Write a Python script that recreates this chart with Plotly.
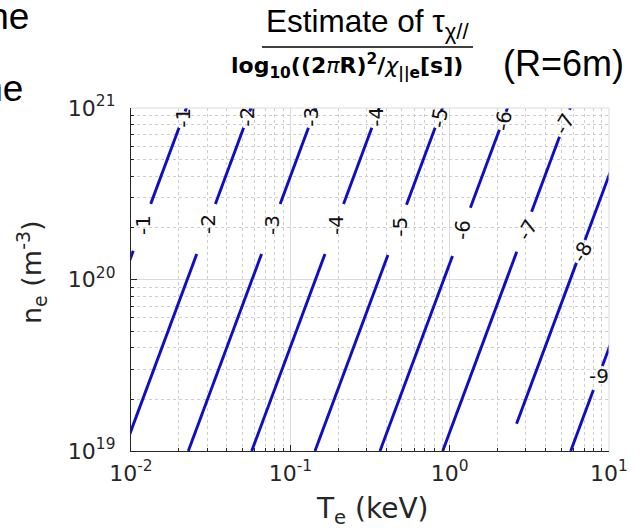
import numpy as np
import plotly.graph_objects as go

# Iso-lines of log10((2*pi*R)^2 / chi_par_e [s]) for R = 6 m,
# electron temperature Te (keV) against electron density ne (m^-3).
LEVELS = [-1, -2, -3, -4, -5, -6, -7, -8, -9]

# points along each iso-line; None breaks a line where its label sits
TE_M1 = [0.00886, 0.01033, None, 0.01330, 0.02002, None, 0.02185, 0.02440]
NE_M1 = [1.0e20, 1.47e20, None, 2.76e20, 7.67e20, None, 9.55e20, 1.26e21]

TE_M2 = [0.00897, 0.02587, None, 0.03385, 0.05092, None, 0.05555, 0.06207]
NE_M2 = [1.0e19, 1.41e20, None, 2.76e20, 7.67e20, None, 9.55e20, 1.26e21]

TE_M3 = [0.02289, 0.06600, None, 0.08633, 0.1299, None, 0.1418, 0.1583]
NE_M3 = [1.0e19, 1.41e20, None, 2.76e20, 7.67e20, None, 9.55e20, 1.26e21]

TE_M4 = [0.05722, 0.1650, None, 0.2158, 0.3247, None, 0.3544, 0.3959]
NE_M4 = [1.0e19, 1.41e20, None, 2.76e20, 7.67e20, None, 9.55e20, 1.26e21]

TE_M5 = [0.1428, 0.4097, None, 0.5358, 0.8103, None, 0.8847, 0.9881]
NE_M5 = [1.0e19, 1.39e20, None, 2.73e20, 7.67e20, None, 9.55e20, 1.26e21]

TE_M6 = [0.3654, 1.042, None, 1.349, 2.052, None, 2.259, 2.528]
NE_M6 = [1.0e19, 1.37e20, None, 2.62e20, 7.47e20, None, 9.50e20, 1.26e21]

TE_M7 = [0.9044, 2.636, None, 3.267, 4.890, None, 5.653, 6.256]
NE_M7 = [1.0e19, 1.45e20, None, 2.48e20, 6.80e20, None, 9.77e20, 1.26e21]

TE_M8 = [2.629, 6.248, None, 7.07, 11.4]
NE_M8 = [1.44e19, 1.25e20, None, 1.70e20, 5.62e20]

TE_M9 = [5.751, 7.982, None, 9.081, 10.96]
NE_M9 = [1.0e19, 2.27e19, None, 3.13e19, 5.01e19]

LINES_TE = [TE_M1, TE_M2, TE_M3, TE_M4, TE_M5, TE_M6, TE_M7, TE_M8, TE_M9]
LINES_NE = [NE_M1, NE_M2, NE_M3, NE_M4, NE_M5, NE_M6, NE_M7, NE_M8, NE_M9]

# inline contour labels: level, Te, ne, rotation
LABEL_LEVEL = [-1, -2, -3, -4, -5, -6, -7, -8, -9,
               -1, -2, -3, -4, -5, -6, -7]
LABEL_TE = [0.01189, 0.03043, 0.07674, 0.1935, 0.4880, 1.195, 3.058, 6.77, 8.655,
            0.02120, 0.05346, 0.1348, 0.3449, 0.857, 2.162, 5.221]
LABEL_NE = [2.08e20, 2.11e20, 2.08e20, 2.08e20, 2.03e20, 1.95e20, 1.95e20, 1.45e20, 2.74e19,
            8.78e20, 8.89e20, 8.89e20, 8.89e20, 8.78e20, 8.43e20, 8.10e20]
LABEL_ANGLE = [-90, -90, -90, -90, -90, -85, -60, -60, 0,
               -90, -90, -90, -90, -80, -80, -60]

TE_TICKS = [0.01, 0.1, 1, 10]
TE_TICKTEXT = ["10<sup>-2</sup>", "10<sup>-1</sup>", "10<sup>0</sup>", "10<sup>1</sup>"]
NE_TICKS = [1e19, 1e20, 1e21]
NE_TICKTEXT = ["10<sup>19</sup>", "10<sup>20</sup>", "10<sup>21</sup>"]

TE_MINOR = [k * 10.0 ** d for d in range(-2, 1) for k in range(2, 10)]
NE_MINOR = [k * 10.0 ** d for d in range(19, 21) for k in range(2, 10)]

W, H = 644, 531
ML, MR, MT, MB = 131, 35, 108, 80
PW, PH = W - ML - MR, H - MT - MB


def px(x):
    return (x - ML) / PW


def py(y):
    return (H - MB - y) / PH


LINE_COLOR = "#0e0ec2"
AXIS_COLOR = "#262626"
GRID_MAJOR = "#dadada"
GRID_MINOR = "#cdcdcd"

fig = go.Figure()
for lvl, te, ne in zip(LEVELS, LINES_TE, LINES_NE):
    fig.add_trace(go.Scatter(
        x=te, y=ne, mode="lines", name=str(lvl),
        line=dict(color=LINE_COLOR, width=2.9),
        connectgaps=False, showlegend=False, hoverinfo="skip",
    ))

annotations = []
for lvl, te, ne, ang in zip(LABEL_LEVEL, LABEL_TE, LABEL_NE, LABEL_ANGLE):
    annotations.append(dict(
        x=np.log10(te), y=np.log10(ne), xref="x", yref="y",
        text=str(lvl), showarrow=False, textangle=ang,
        font=dict(family="DejaVu Sans", size=20, color="#111111"),
    ))

# slide text running in from the left edge
annotations += [
    dict(x=px(31), y=py(17), xref="paper", yref="paper", xanchor="right",
         yanchor="middle", text="the", showarrow=False,
         font=dict(family="Liberation Sans", size=37, color="black")),
    dict(x=px(25), y=py(88), xref="paper", yref="paper", xanchor="right",
         yanchor="middle", text="the", showarrow=False,
         font=dict(family="Liberation Sans", size=37, color="black")),
]

# headings
annotations += [
    dict(x=px(367), y=py(24), xref="paper", yref="paper", xanchor="center",
         yanchor="middle", text="Estimate of τ<sub>χ//</sub>", showarrow=False,
         font=dict(family="Liberation Sans", size=31.5, color="black")),
    dict(x=px(347), y=py(67), xref="paper", yref="paper", xanchor="center",
         yanchor="middle",
         text="<b>log<sub>10</sub>((2</b><i>π</i><b>R)<sup>2</sup>/</b><i>χ</i>"
              "<sub><b>||e</b></sub><b>[s])</b>",
         showarrow=False,
         font=dict(family="DejaVu Sans", size=22, color="black")),
    dict(x=px(563), y=py(63), xref="paper", yref="paper", xanchor="center",
         yanchor="middle", text="(R=6m)", showarrow=False,
         font=dict(family="Liberation Sans", size=36, color="black")),
    # axis titles
    dict(x=px(372), y=py(510), xref="paper", yref="paper", xanchor="center",
         yanchor="middle", text="T<sub>e</sub> (keV)", showarrow=False,
         font=dict(family="DejaVu Sans", size=28, color=AXIS_COLOR)),
    dict(x=px(31), y=py(272), xref="paper", yref="paper", xanchor="center",
         yanchor="middle", text="n<sub>e</sub> (m<sup>-3</sup>)", showarrow=False,
         textangle=-90,
         font=dict(family="DejaVu Sans", size=27, color=AXIS_COLOR)),
]

shapes = [
    # underline of the heading
    dict(type="line", xref="paper", yref="paper", x0=px(262), x1=px(473),
         y0=py(47), y1=py(47), line=dict(color="black", width=1.5)),
    # light frame on the top and right edges
    dict(type="line", xref="paper", yref="paper", x0=0, x1=1, y0=1, y1=1,
         line=dict(color=GRID_MAJOR, width=1)),
    dict(type="line", xref="paper", yref="paper", x0=1, x1=1, y0=0, y1=1,
         line=dict(color=GRID_MAJOR, width=1)),
]

axis_common = dict(
    type="log", showline=True, linecolor=AXIS_COLOR, linewidth=1.3,
    mirror=False, ticks="inside", ticklen=6, tickwidth=1.2, tickcolor=AXIS_COLOR,
    showgrid=True, gridcolor=GRID_MAJOR, gridwidth=1, zeroline=False,
    tickfont=dict(family="DejaVu Sans", size=22, color=AXIS_COLOR),
)

fig.update_xaxes(
    range=[-2, 1], tickmode="array", tickvals=TE_TICKS, ticktext=TE_TICKTEXT,
    ticklabelstandoff=2,
    minor=dict(tickmode="array", tickvals=TE_MINOR, ticks="inside", ticklen=3,
               tickcolor=AXIS_COLOR, showgrid=True, gridcolor=GRID_MINOR,
               griddash="dot", gridwidth=1),
    **axis_common,
)
fig.update_yaxes(
    range=[19, 21], tickmode="array", tickvals=NE_TICKS, ticktext=NE_TICKTEXT,
    ticklabelstandoff=10,
    minor=dict(tickmode="array", tickvals=NE_MINOR, ticks="inside", ticklen=3,
               tickcolor=AXIS_COLOR, showgrid=True, gridcolor=GRID_MINOR,
               griddash="dot", gridwidth=1),
    **axis_common,
)

fig.update_layout(
    width=W, height=H,
    margin=dict(l=ML, r=MR, t=MT, b=MB, autoexpand=False),
    paper_bgcolor="white", plot_bgcolor="white",
    showlegend=False,
    annotations=annotations, shapes=shapes,
)

fig.write_html("out.html")
